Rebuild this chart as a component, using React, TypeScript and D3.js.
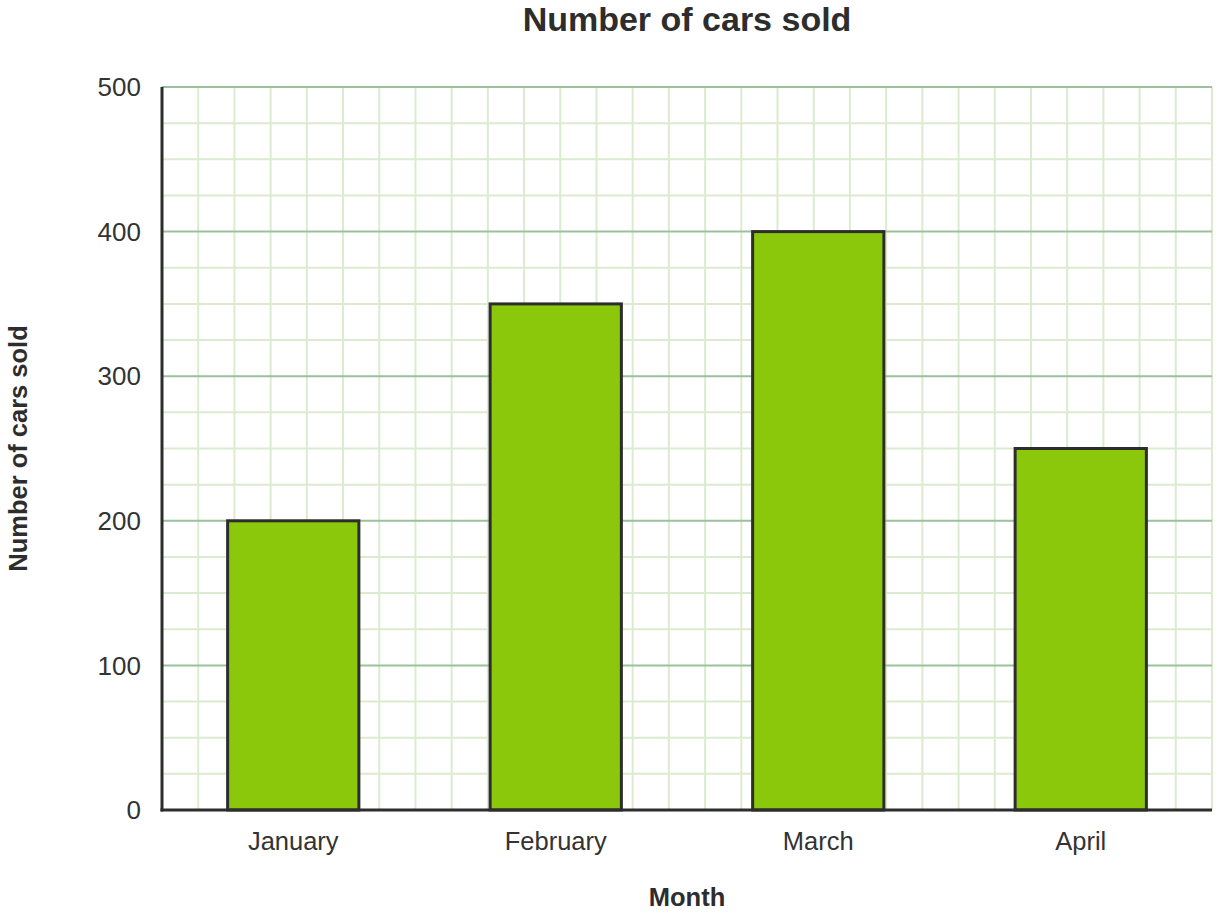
import * as d3 from 'd3';

const months = ['January', 'February', 'March', 'April'];
const carsSold = [200, 350, 400, 250];
const yTicks = [0, 100, 200, 300, 400, 500];

export default function App() {
  const width = 1220;
  const height = 913;
  const margin = { top: 87, right: 8, bottom: 103, left: 162 };

  const x = d3
    .scaleBand<string>()
    .domain(months)
    .range([margin.left, width - margin.right])
    .paddingInner(0.5)
    .paddingOuter(0.25);

  const y = d3
    .scaleLinear()
    .domain([0, 500])
    .range([height - margin.bottom, margin.top]);

  // background grid: 29 columns across, minor rows every 25
  const gx = d3
    .scaleLinear()
    .domain([0, 29])
    .range([margin.left, width - margin.right]);
  const minorCols = d3.range(1, 30);
  const minorRows = d3.range(25, 525, 25).filter((v) => v % 100 !== 0);

  const font = 'Liberation Sans, Arial, sans-serif';
  const plotMid = (margin.left + width - margin.right) / 2;

  return (
    <svg
      width={width}
      height={height}
      style={{ position: 'absolute', left: 0, top: 0 }}
      fontFamily={font}
    >
      <rect width={width} height={height} fill="#fff" />
      <g stroke="#dcebd0" strokeWidth={2}>
        {minorCols.map((c) => (
          <line key={c} x1={gx(c)} x2={gx(c)} y1={y(500)} y2={y(0)} />
        ))}
        {minorRows.map((v) => (
          <line key={v} x1={margin.left} x2={width - margin.right} y1={y(v)} y2={y(v)} />
        ))}
      </g>
      <g stroke="#9bc19b" strokeWidth={2}>
        {yTicks.slice(1).map((v) => (
          <line key={v} x1={margin.left} x2={width - margin.right} y1={y(v)} y2={y(v)} />
        ))}
      </g>

      {months.map((m, i) => (
        <rect
          key={m}
          x={x(m)}
          y={y(carsSold[i])}
          width={x.bandwidth()}
          height={y(0) - y(carsSold[i])}
          fill="#8bc70a"
          stroke="#2d2d2d"
          strokeWidth={3}
        />
      ))}

      <line x1={margin.left} x2={margin.left} y1={y(500)} y2={y(0) + 1.5} stroke="#2d2d2d" strokeWidth={3} />
      <line x1={margin.left - 1.5} x2={width - margin.right} y1={y(0)} y2={y(0)} stroke="#2d2d2d" strokeWidth={3} />

      <g fontSize={26} fill="#333" textAnchor="end">
        {yTicks.map((v) => (
          <text key={v} x={margin.left - 21} y={y(v)} dy="0.35em">
            {v}
          </text>
        ))}
      </g>
      <g fontSize={25.5} fill="#333" textAnchor="middle">
        {months.map((m) => (
          <text key={m} x={(x(m) as number) + x.bandwidth() / 2} y={y(0) + 40}>
            {m}
          </text>
        ))}
      </g>

      <text x={plotMid} y={31} textAnchor="middle" fontSize={34} fontWeight="bold" fill="#2d2d2d">
        Number of cars sold
      </text>
      <text x={plotMid} y={906} textAnchor="middle" fontSize={25.5} fontWeight="bold" fill="#2d2d2d">
        Month
      </text>
      <text
        transform={`translate(27,${(y(0) + y(500)) / 2}) rotate(-90)`}
        textAnchor="middle"
        fontSize={25.5}
        fontWeight="bold"
        fill="#2d2d2d"
      >
        Number of cars sold
      </text>
    </svg>
  );
}
